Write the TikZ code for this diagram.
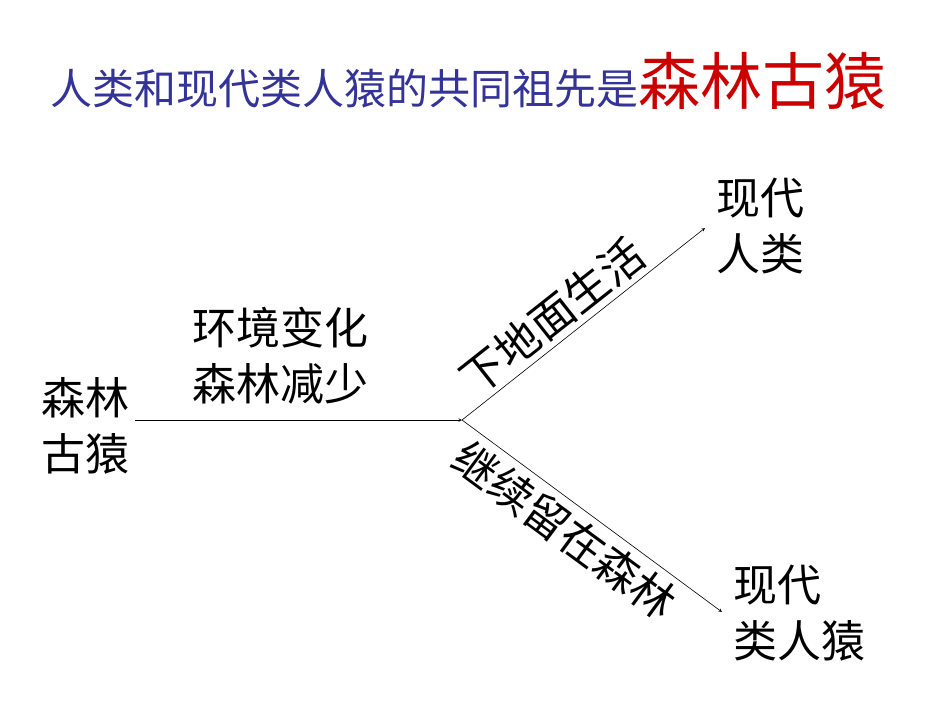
\documentclass[tikz,border=0pt]{standalone}
\usepackage{fontspec}
\setmainfont{Noto Sans CJK SC}
\definecolor{tblue}{RGB}{51,51,153}
\definecolor{tred}{RGB}{204,0,0}
\begin{document}
\begin{tikzpicture}[x=1pt,y=-1pt,
  lbl/.style={inner sep=0pt,align=center,font=\fontsize{44}{56}\selectfont},
  arr/.style={-stealth,line width=0.6pt}]
\useasboundingbox (0,0) rectangle (950,713);
\node[inner sep=0pt,anchor=base west] (t) at (50,104) {\textcolor{tblue}{\fontsize{42}{44}\selectfont 人类和现代类人猿的共同祖先是}\textcolor{tred}{\fontsize{62}{64}\selectfont 森林古猿}};
\node[lbl] (a) at (85,426) {森林\\古猿};
\coordinate (m) at (462,420);
\node[lbl,anchor=west,align=left] (u) at (716,226) {现代\\人类};
\node[lbl,anchor=west,align=left] (d) at (733,613) {现代\\类人猿};
\draw[arr] (135,420) -- (m);
\coordinate (ue) at (705,228);
\coordinate (de) at (722,612);
\draw[arr] (m) -- (ue);
\draw[arr] (m) -- (de);
\node[lbl] (l1) at (280,356) {环境变化\\森林减少};
\node[lbl,rotate=38.3] (l2) at (552,316) {下地面生活};
\node[lbl,rotate=-36.4] (l3) at (565,530) {继续留在森林};
\end{tikzpicture}
\end{document}
